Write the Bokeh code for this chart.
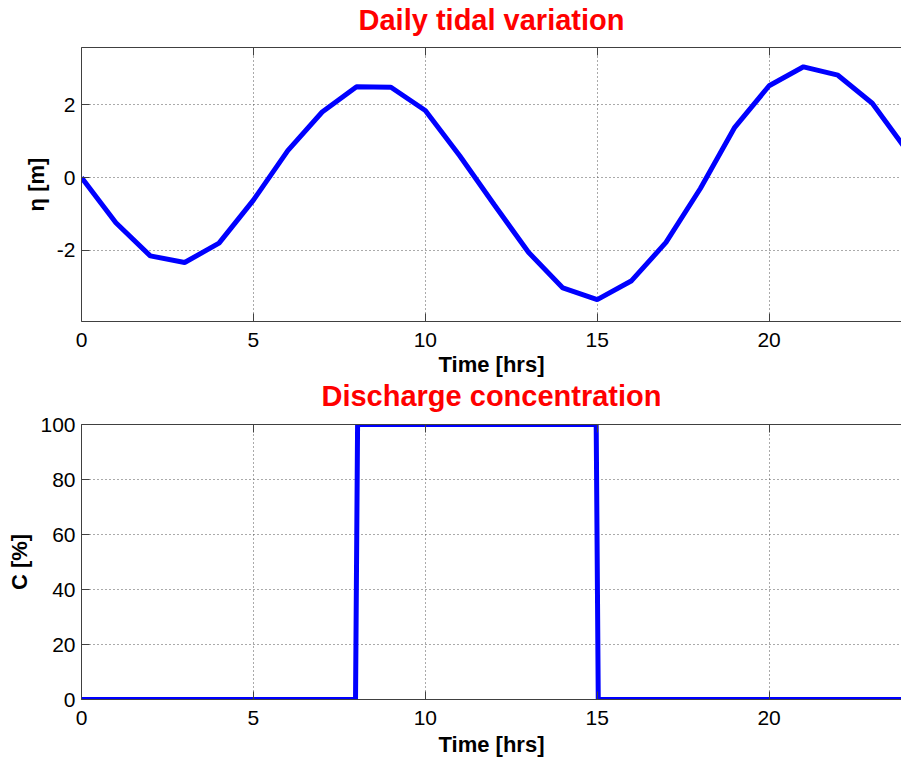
from bokeh.plotting import figure
from bokeh.layouts import column
from bokeh.models import LinearAxis, FixedTicker, Range1d
from bokeh.embed import file_html
from bokeh.resources import INLINE

# ---------------- data ----------------
hours = list(range(0, 25))
eta = [0.0, -1.24, -2.15, -2.33, -1.80, -0.62, 0.74, 1.80, 2.49, 2.48, 1.84,
       0.60, -0.74, -2.05, -3.03, -3.35, -2.83, -1.78, -0.30, 1.38, 2.52,
       3.04, 2.81, 2.04, 0.75]

conc_t = [0, 7.97, 8.0, 8.03, 14.97, 15.0, 15.03, 24]
conc = [0, 0, 50, 100, 100, 50, 0, 0]

x_ticks = [0, 5, 10, 15, 20]
eta_ticks = [-2, 0, 2]
conc_ticks = [0, 20, 40, 60, 80, 100]

FONT = "Liberation Sans"
AXIS_COLOR = "#404040"
GRID_COLOR = "#555555"
LINE_COLOR = "#0000FF"
TITLE_COLOR = "#FF0000"


def style(p, ytick_list, xlabel, ylabel, title, title_standoff, top_fill,
          xlabel_standoff):
    p.outline_line_color = None
    p.background_fill_color = "white"
    p.border_fill_color = "white"

    p.title.text = title
    p.title.align = "center"
    p.title.text_font = FONT
    p.title.text_font_size = "29px"
    p.title.text_font_style = "bold"
    p.title.text_color = TITLE_COLOR
    p.title.standoff = title_standoff

    xa = p.xaxis[0]
    ya = p.yaxis[0]
    xa.ticker = FixedTicker(ticks=x_ticks)
    ya.ticker = FixedTicker(ticks=ytick_list)
    for ax in (xa, ya):
        ax.axis_line_color = AXIS_COLOR
        ax.major_tick_line_color = AXIS_COLOR
        ax.major_tick_in = 8
        ax.major_tick_out = 0
        ax.minor_tick_line_color = None
        ax.major_label_text_font = FONT
        ax.major_label_text_font_size = "21px"
        ax.major_label_text_color = "black"
        ax.axis_label_text_font = FONT
        ax.axis_label_text_font_size = "22px"
        ax.axis_label_text_font_style = "bold"
        ax.axis_label_text_color = "black"
    ya.major_label_overrides = {t: str(t) for t in ytick_list}
    xa.axis_label = xlabel
    ya.axis_label = ylabel
    xa.major_label_standoff = 11
    xa.axis_label_standoff = xlabel_standoff
    ya.major_label_standoff = 6
    ya.axis_label_standoff = 5

    # top box edge with inward ticks (nearest to the frame)
    top = LinearAxis(ticker=FixedTicker(ticks=x_ticks))
    top.axis_line_color = AXIS_COLOR
    top.major_tick_line_color = AXIS_COLOR
    top.major_tick_in = 8
    top.major_tick_out = 0
    top.minor_tick_line_color = None
    top.major_label_overrides = {t: "" for t in x_ticks}
    top.major_label_standoff = 0
    p.add_layout(top, "above")

    # invisible spacer between the box and the title
    spacer = LinearAxis(ticker=FixedTicker(ticks=x_ticks))
    spacer.axis_line_color = None
    spacer.major_tick_line_color = None
    spacer.major_tick_in = 0
    spacer.major_tick_out = top_fill
    spacer.minor_tick_line_color = None
    spacer.major_label_overrides = {t: "" for t in x_ticks}
    spacer.major_label_standoff = 0
    p.add_layout(spacer, "above")

    for g in (p.xgrid[0], p.ygrid[0]):
        g.grid_line_color = GRID_COLOR
        g.grid_line_dash = "1 3"
        g.grid_line_width = 1
    p.xgrid[0].ticker = FixedTicker(ticks=x_ticks)
    p.ygrid[0].ticker = FixedTicker(ticks=ytick_list)


p1 = figure(width=901, height=379, output_backend="svg", toolbar_location=None,
            x_range=Range1d(0, 23.85), y_range=Range1d(-3.95, 3.57),
            min_border_left=81, min_border_right=0, min_border_top=47,
            min_border_bottom=57)
style(p1, eta_ticks, "Time [hrs]", "η [m]", "Daily tidal variation", 0, 12, 2)
p1.line(hours, eta, line_color=LINE_COLOR, line_width=5)

p2 = figure(width=901, height=382, output_backend="svg", toolbar_location=None,
            x_range=Range1d(0, 23.85), y_range=Range1d(0, 100),
            min_border_left=81, min_border_right=0, min_border_top=45,
            min_border_bottom=62)
style(p2, conc_ticks, "Time [hrs]", "C [%]", "Discharge concentration", -5, 15, 4)
p2.line(conc_t, conc, line_color=LINE_COLOR, line_width=5)

layout = column(p1, p2, spacing=0)
open("out.html", "w").write(file_html(layout, INLINE))
